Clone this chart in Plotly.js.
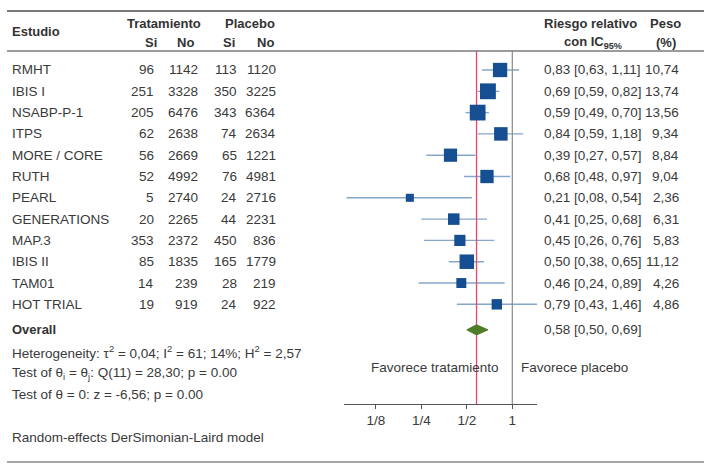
<!DOCTYPE html>
<html><head><meta charset="utf-8">
<script src="https://cdn.plot.ly/plotly-3.0.1.min.js"></script>
<style>html,body{margin:0;padding:0;background:#fff}</style>
</head><body><div id="chart" style="width:709px;height:469px"></div>
<script>
const studies = ['RMHT','IBIS I','NSABP-P-1','ITPS','MORE / CORE','RUTH','PEARL','GENERATIONS','MAP.3','IBIS II','TAM01','HOT TRIAL'];
const tratSi = [96,251,205,62,56,52,5,20,353,85,14,19];
const tratNo = [1142,3328,6476,2638,2669,4992,2740,2265,2372,1835,239,919];
const placSi = [113,350,343,74,65,76,24,44,450,165,28,24];
const placNo = [1120,3225,6364,2634,1221,4981,2716,2231,836,1779,219,922];
const rr = [0.83,0.69,0.59,0.84,0.39,0.68,0.21,0.41,0.45,0.50,0.46,0.79];
const lo = [0.63,0.59,0.49,0.59,0.27,0.48,0.08,0.25,0.26,0.38,0.24,0.43];
const hi = [1.11,0.82,0.70,1.18,0.57,0.97,0.54,0.68,0.76,0.65,0.89,1.46];
const weight = [10.74,13.74,13.56,9.34,8.84,9.04,2.36,6.31,5.83,11.12,4.26,4.86];
const overallRR = 0.58, overallLo = 0.50, overallHi = 0.69;
const tickVals = [0.125,0.25,0.5,1];
const tickText = ['1/8','1/4','1/2','1'];
const statLines = [
  'Heterogeneity: τ<sup>2</sup> = 0,04; I<sup>2</sup> = 61; 14%; H<sup>2</sup> = 2,57',
  'Test of θ<sub>i</sub> = θ<sub>j</sub>: Q(11) = 28,30; p = 0.00',
  'Test of θ = 0: z = -6,56; p = 0.00'
];
const modelNote = 'Random-effects DerSimonian-Laird model';

const W = 709, H = 469;
const px = x => x / W, py = y => 1 - y / H;
const FONT = 'Liberation Sans, Arial, sans-serif';
const TXT = '#3a3a3a';
const fmt = v => v.toFixed(2).replace('.', ',');

const rows = studies.map((s, i) => i + 1);
const overallRow = 13.2;
const yTop = 0.108, yBot = 16.68;

const traces = [];
// CI lines
const cx = [], cy = [];
rows.forEach((r, i) => { cx.push(lo[i], hi[i], null); cy.push(r, r, null); });
traces.push({x: cx, y: cy, mode: 'lines', line: {color: '#86a6cc', width: 1.4}, hoverinfo: 'skip', cliponaxis: false});
// null line and overall line
traces.push({x: [1, 1], y: [yTop, yBot], mode: 'lines', line: {color: '#8a8a8a', width: 1.2}, hoverinfo: 'skip'});
traces.push({x: [overallRR, overallRR], y: [yTop, yBot], mode: 'lines', line: {color: '#e8456a', width: 1.3}, hoverinfo: 'skip'});
// squares
traces.push({x: rr, y: rows, mode: 'markers', marker: {symbol: 'square', color: '#164f91', opacity: 1, size: weight.map(w => 3.6 * Math.sqrt(w) + 2.5), line: {width: 0}}, hoverinfo: 'skip'});
// diamond
const dh = 0.24;
traces.push({x: [overallLo, overallRR, overallHi, overallRR, overallLo], y: [overallRow, overallRow - dh, overallRow, overallRow + dh, overallRow], mode: 'lines', fill: 'toself', fillcolor: '#4f7d2a', line: {color: '#4f7d2a', width: 1}, hoverinfo: 'skip'});

const ann = [];
const A = (text, x, y, xanchor, opts = {}) => ann.push(Object.assign({text, x, y, xref: 'paper', yref: opts.yref || 'paper', xanchor, yanchor: 'middle', showarrow: false, font: {family: FONT, size: opts.size || 13.5, color: opts.color || TXT}}, opts.extra || {}));

// headers
A('<b>Estudio</b>', px(10), py(32), 'left', {color: '#333', size: 13});
A('<b>Tratamiento</b>', px(163.5), py(23), 'center', {color: '#333', size: 13});
A('<b>Placebo</b>', px(249.5), py(23), 'center', {color: '#333', size: 13});
A('<b>Si</b>', px(151), py(42), 'center', {color: '#333', size: 13});
A('<b>No</b>', px(185.5), py(42), 'center', {color: '#333', size: 13});
A('<b>Si</b>', px(229), py(42), 'center', {color: '#333', size: 13});
A('<b>No</b>', px(265.5), py(42), 'center', {color: '#333', size: 13});
A('<b>Riesgo relativo</b>', px(590), py(23), 'center', {color: '#333', size: 13});
A('<b>con IC<sub>95%</sub></b>', px(593), py(42), 'center', {color: '#333', size: 13});
A('<b>Peso</b>', px(665.5), py(23), 'center', {color: '#333', size: 13});
A('<b>(%)</b>', px(666), py(42), 'center', {color: '#333', size: 13});

rows.forEach((r, i) => {
  A(studies[i], px(10), r, 'left', {yref: 'y'});
  A(String(tratSi[i]), px(156), r, 'right', {yref: 'y'});
  A(String(tratNo[i]), px(199.5), r, 'right', {yref: 'y'});
  A(String(placSi[i]), px(239.5), r, 'right', {yref: 'y'});
  A(String(placNo[i]), px(278), r, 'right', {yref: 'y'});
  A(`${fmt(rr[i])} [${fmt(lo[i])}, ${fmt(hi[i])}]`, px(542), r, 'left', {yref: 'y'});
  A(fmt(weight[i]), px(681), r, 'right', {yref: 'y'});
});
A('<b>Overall</b>', px(10), overallRow, 'left', {yref: 'y', color: '#333', size: 13});
A(`${fmt(overallRR)} [${fmt(overallLo)}, ${fmt(overallHi)}]`, px(541.5), overallRow, 'left', {yref: 'y'});

A(statLines[0], px(10), py(352), 'left');
A(statLines[1], px(10), py(373), 'left');
A(statLines[2], px(10), py(394), 'left');
A(modelNote, px(10), py(437), 'left');
A('Favorece tratamiento', px(500.5), py(367), 'right');
A('Favorece placebo', px(519), py(367), 'left');

const shapes = [
  {type: 'line', xref: 'paper', yref: 'paper', x0: px(7), x1: px(704), y0: py(11), y1: py(11), line: {color: '#7a7a7a', width: 2}},
  {type: 'line', xref: 'paper', yref: 'paper', x0: px(7), x1: px(704), y0: py(51), y1: py(51), line: {color: '#7a7a7a', width: 1.5}},
  {type: 'line', xref: 'paper', yref: 'paper', x0: px(7), x1: px(704), y0: py(462), y1: py(462), line: {color: '#8a8a8a', width: 1.5}}
];

const l2 = v => Math.log10(v);
const xLeft = Math.pow(2, (344 - 512.3) / 45.5), xRight = Math.pow(2, (537 - 512.3) / 45.5);

const layout = {
  width: W, height: H,
  margin: {l: 0, r: 0, t: 0, b: 0},
  paper_bgcolor: '#fff', plot_bgcolor: 'rgba(0,0,0,0)',
  showlegend: false,
  xaxis: {type: 'log', domain: [px(344), px(537)], range: [l2(xLeft), l2(xRight)],
    tickvals: tickVals, ticktext: tickText, showgrid: false, zeroline: false,
    showline: true, linecolor: '#555', linewidth: 1, ticks: 'outside', ticklen: 4, tickcolor: '#555',
    tickfont: {family: FONT, size: 13.5, color: TXT}, fixedrange: true, anchor: 'y'},
  yaxis: {domain: [py(404), py(51)], range: [yBot, yTop], visible: false, showgrid: false, zeroline: false, fixedrange: true},
  annotations: ann,
  shapes: shapes,
  hovermode: false
};
Plotly.newPlot('chart', traces, layout, {displayModeBar: false, staticPlot: true});
</script>
</body></html>
